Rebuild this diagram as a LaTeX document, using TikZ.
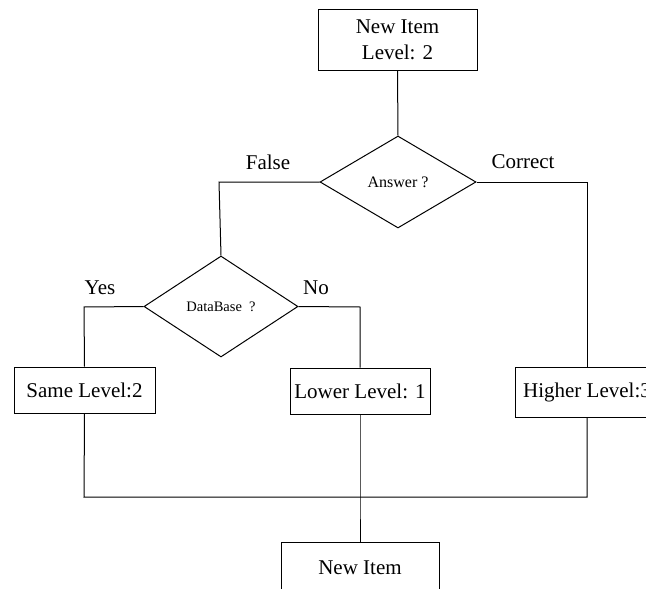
\documentclass[tikz,border=0pt]{standalone}
\usepackage{fontspec}
\setmainfont{Liberation Serif}
\newfontfamily\diagfont{Liberation Serif}
\usetikzlibrary{shapes.geometric}
\begin{document}
\begin{tikzpicture}[x=1pt,y=-1pt, line width=1pt,
  lbl/.style={font=\diagfont\fontsize{21}{25}\selectfont, inner sep=0pt},
  boxnode/.style={draw, font=\diagfont\fontsize{21}{26}\selectfont, align=center, inner sep=0pt},
  dia/.style={draw, diamond, inner sep=0pt}]
\useasboundingbox (0,0) rectangle (646,589);
\clip (0,0) rectangle (646,589);
\fill[white] (0,0) rectangle (646,589);
% boxes
\node[boxnode, minimum width=159pt, minimum height=61pt] (top) at (397.5,39.5) {New Item\\Level: 2};
\node[dia, minimum width=156pt, minimum height=92pt, font=\diagfont\fontsize{16}{18}\selectfont] (ans) at (398,182) {Answer ?};
\node[dia, minimum width=154pt, minimum height=101pt, font=\diagfont\fontsize{14.5}{16}\selectfont] (db) at (221,306.5) {DataBase\ \ ?};
\node[boxnode, minimum width=141pt, minimum height=46pt] (same) at (84.5,390) {Same Level:2};
\node[boxnode, minimum width=140pt, minimum height=46pt] (lower) at (360,391) {Lower Level: 1};
\node[boxnode, minimum width=144pt, minimum height=50pt] (higher) at (587,392) {Higher Level:3};
\node[boxnode, minimum width=158pt, minimum height=52pt] (newitem) at (360,568) {New Item};
% corner coordinates
\coordinate (cfalse) at (219,182);
\coordinate (ccorrect) at (587,182);
\coordinate (cyes) at (84,307);
\coordinate (cno) at (360,307);
\coordinate (bl) at (84,497);
\coordinate (bm) at (360,497);
\coordinate (br) at (587,497);
% connectors
\draw (top.south) -- (ans.north);
\draw (ans.west) -- (cfalse) -- (db.north);
\draw (ans.east) -- (ccorrect) -- (higher.north);
\draw (db.west) -- (cyes) -- (same.north);
\draw (db.east) -- (cno) -- (lower.north);
\draw (same.south) -- (bl) -- (br) -- (higher.south);
\draw (lower.south) -- (bm) -- (newitem.north);
% labels
\node[lbl] (lfalse) at (268,162) {False};
\node[lbl] (lcorrect) at (523,162) {Correct};
\node[lbl] (lyes) at (100,288) {Yes};
\node[lbl] (lno) at (316,288) {No};
\end{tikzpicture}
\end{document}
